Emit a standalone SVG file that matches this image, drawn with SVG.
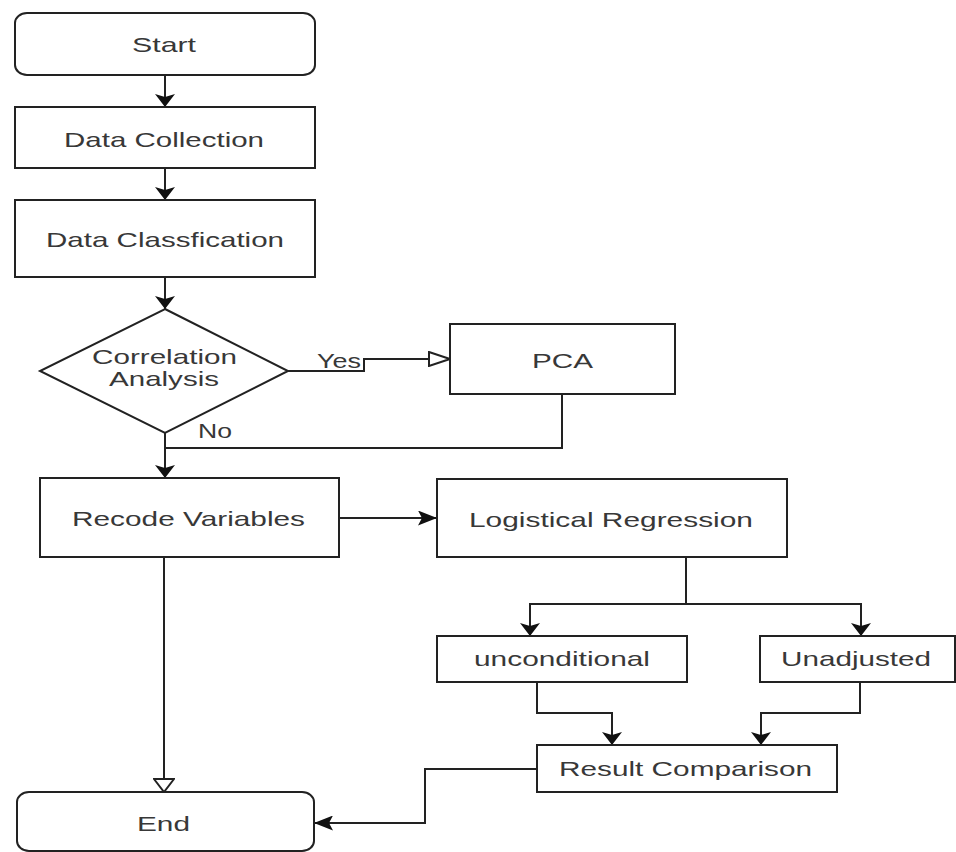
<svg xmlns="http://www.w3.org/2000/svg" width="956" height="852" viewBox="0 0 956 852">
<style>
.n{fill:#fff;stroke:#222;stroke-width:2}
.c{fill:none;stroke:#222;stroke-width:2}
.t{font-family:"Liberation Sans",Arial,sans-serif;font-size:21px;fill:#383838}
</style>
<defs>
<marker id="aV" viewBox="0 -10 13 20" markerWidth="13" markerHeight="20" refX="13" refY="0" orient="auto" markerUnits="userSpaceOnUse">
<path d="M0,-10 L13,0 L0,10 L3,0 Z" fill="#111"/>
</marker>
<marker id="aH" viewBox="0 -7.5 19 15" markerWidth="19" markerHeight="15" refX="19" refY="0" orient="auto" markerUnits="userSpaceOnUse">
<path d="M0,-7.5 L19,0 L0,7.5 L4,0 Z" fill="#111"/>
</marker>
<marker id="oV" viewBox="-1 -11 15 22" markerWidth="15" markerHeight="22" refX="13" refY="0" orient="auto" markerUnits="userSpaceOnUse">
<path d="M0,-10 L13,0 L0,10 Z" fill="#fff" stroke="#222" stroke-width="2"/>
</marker>
<marker id="oH" viewBox="-1 -8 23 16" markerWidth="23" markerHeight="16" refX="21" refY="0" orient="auto" markerUnits="userSpaceOnUse">
<path d="M0,-7 L21,0 L0,7 Z" fill="#fff" stroke="#222" stroke-width="2"/>
</marker>
</defs>
<g id="connectors">
<path class="c" d="M165,75 V107" marker-end="url(#aV)"/>
<path class="c" d="M165,168 V200" marker-end="url(#aV)"/>
<path class="c" d="M165,277 V309" marker-end="url(#aV)"/>
<path class="c" d="M288,371 H364 V359 H450" marker-end="url(#oH)"/>
<path class="c" d="M165,433 V478" marker-end="url(#aV)"/>
<path class="c" d="M562,394 V448 H165"/>
<path class="c" d="M339,518 H437" marker-end="url(#aH)"/>
<path class="c" d="M686,557 V604 H530 V636" marker-end="url(#aV)"/>
<path class="c" d="M686,604 H861 V636" marker-end="url(#aV)"/>
<path class="c" d="M537,682 V713 H612 V745" marker-end="url(#aV)"/>
<path class="c" d="M860,682 V713 H761 V745" marker-end="url(#aV)"/>
<path class="c" d="M164,557 V792" marker-end="url(#oV)"/>
<path class="c" d="M537,769 H425 V823 H314" marker-end="url(#aH)"/>
<text class="t" x="317" y="368" textLength="44" lengthAdjust="spacingAndGlyphs">Yes</text>
<text class="t" x="198" y="438" textLength="34" lengthAdjust="spacingAndGlyphs">No</text>
</g>
<g id="start">
<rect class="n" x="15" y="13" width="300" height="62" rx="12" ry="10"/>
<text class="t" x="132" y="52" textLength="64" lengthAdjust="spacingAndGlyphs">Start</text>
</g>
<g id="data-collection">
<rect class="n" x="15" y="107" width="300" height="61"/>
<text class="t" x="64" y="147" textLength="200" lengthAdjust="spacingAndGlyphs">Data Collection</text>
</g>
<g id="data-classification">
<rect class="n" x="15" y="200" width="300" height="77"/>
<text class="t" x="46" y="247" textLength="238" lengthAdjust="spacingAndGlyphs">Data Classfication</text>
</g>
<g id="correlation">
<polygon class="n" points="165,309 288,371 165,433 40,371"/>
<text class="t" x="92" y="364" textLength="145" lengthAdjust="spacingAndGlyphs">Correlation</text>
<text class="t" x="109" y="386" textLength="110" lengthAdjust="spacingAndGlyphs">Analysis</text>
</g>
<g id="pca">
<rect class="n" x="450" y="324" width="225" height="70"/>
<text class="t" x="532" y="368" textLength="61" lengthAdjust="spacingAndGlyphs">PCA</text>
</g>
<g id="recode">
<rect class="n" x="40" y="478" width="299" height="79"/>
<text class="t" x="72" y="526" textLength="233" lengthAdjust="spacingAndGlyphs">Recode Variables</text>
</g>
<g id="logistical">
<rect class="n" x="437" y="479" width="350" height="78"/>
<text class="t" x="469" y="527" textLength="284" lengthAdjust="spacingAndGlyphs">Logistical Regression</text>
</g>
<g id="unconditional">
<rect class="n" x="437" y="636" width="250" height="46"/>
<text class="t" x="474" y="666" textLength="176" lengthAdjust="spacingAndGlyphs">unconditional</text>
</g>
<g id="unadjusted">
<rect class="n" x="760" y="636" width="195" height="46"/>
<text class="t" x="781" y="666" textLength="150" lengthAdjust="spacingAndGlyphs">Unadjusted</text>
</g>
<g id="result">
<rect class="n" x="537" y="745" width="300" height="47"/>
<text class="t" x="559" y="776" textLength="253" lengthAdjust="spacingAndGlyphs">Result Comparison</text>
</g>
<g id="end">
<rect class="n" x="17" y="792" width="297" height="59" rx="12" ry="10"/>
<text class="t" x="137" y="831" textLength="53" lengthAdjust="spacingAndGlyphs">End</text>
</g>
</svg>
